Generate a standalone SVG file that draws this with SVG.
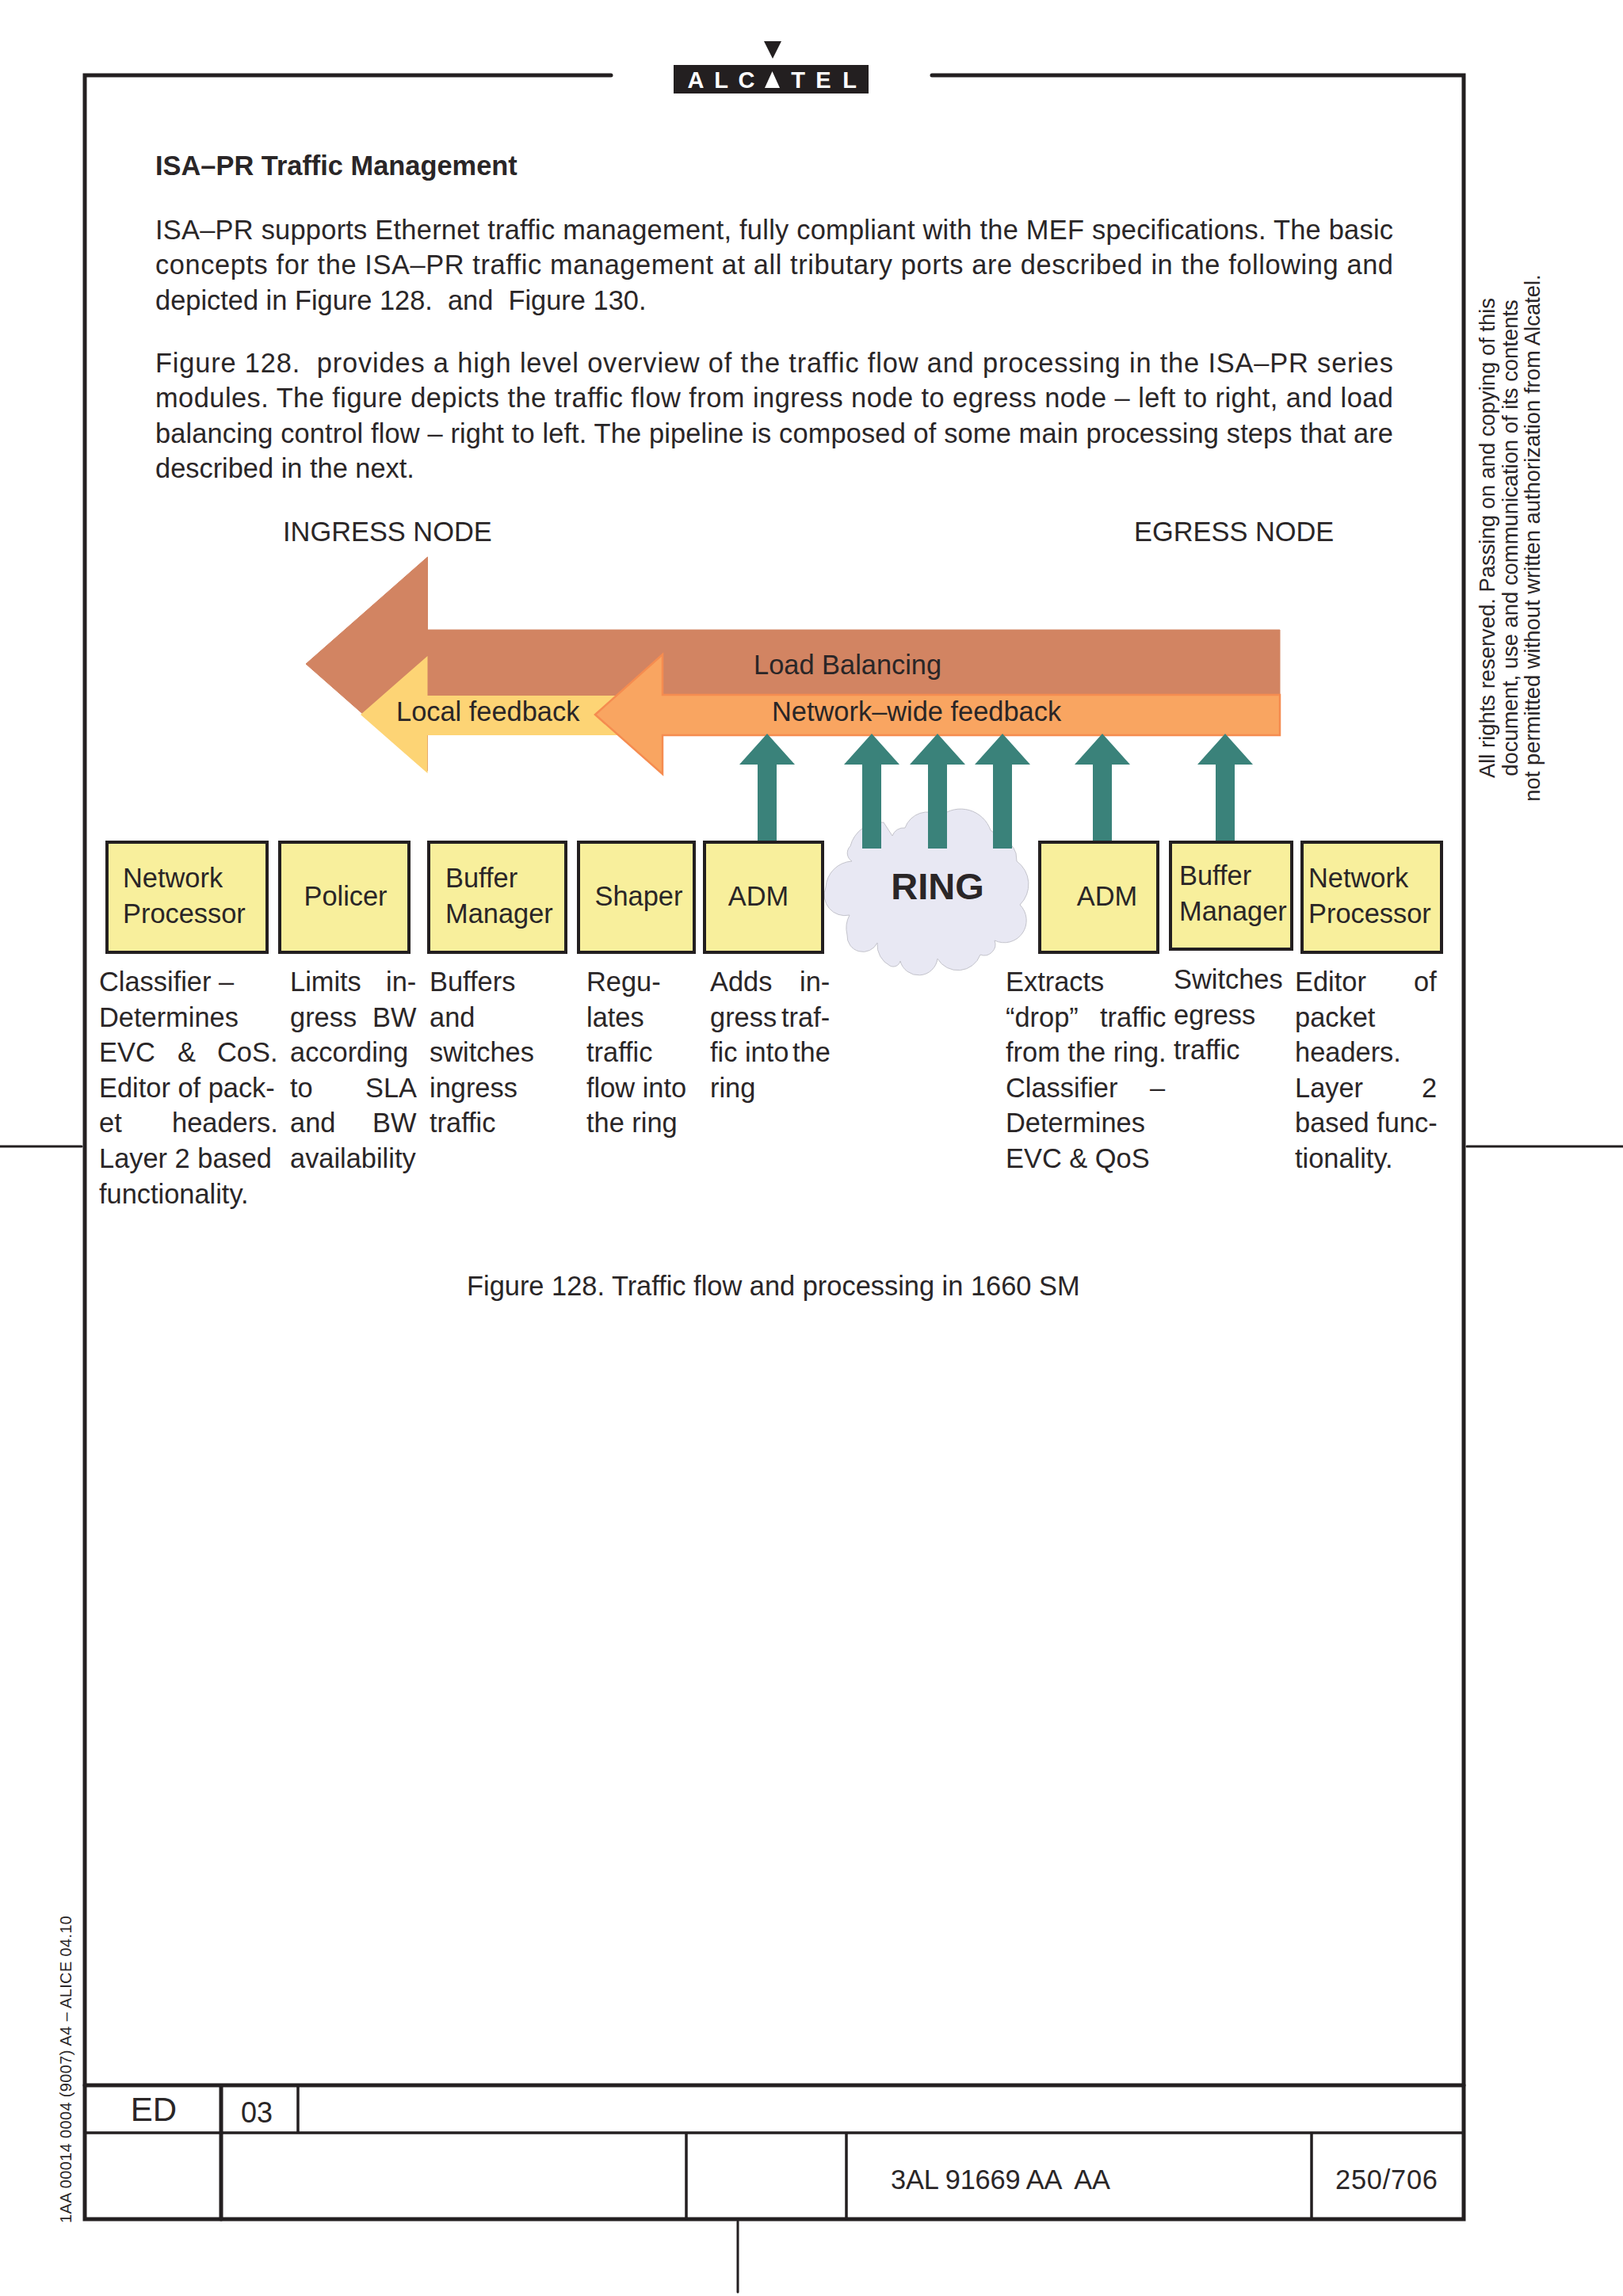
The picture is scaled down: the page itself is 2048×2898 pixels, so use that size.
<svg xmlns="http://www.w3.org/2000/svg" width="2048" height="2898" viewBox="0 0 2048 2898">
<style>
text{font-family:"Liberation Sans",Arial,sans-serif;fill:#2a2627;font-size:34.4px;white-space:pre}
.b{font-weight:bold}
.m{text-anchor:middle}
.f{fill:none;stroke:#231f20;stroke-linecap:round}
.box{fill:#f8ef9c;stroke:#231f20;stroke-width:4}
.teal{fill:#3a827a}
.lg{fill:#fff;font-weight:bold;font-size:29px;text-anchor:middle}
.s{font-size:27.400px}
</style>
<rect width="2048" height="2898" fill="#fff"/>
<g id="frame">
<path class="f" stroke-width="5" d="M771 95H107V2801H1847V95H1176"/>
<path class="f" stroke-width="5" d="M107 2632H1847M279 2632V2801"/>
<path class="f" stroke-width="3.500" d="M107 2692H1847M866 2692V2801M1068 2692V2801M1655 2692V2801M376 2632V2692"/>
<path class="f" stroke-width="3" d="M0 1447H103M1851 1447H2048M931 2804V2893"/>
</g>
<g id="logo">
<polygon points="964,52 986,52 975,74" fill="#231f20"/>
<rect x="850" y="82" width="246" height="36" fill="#231f20"/>
<text class="lg" x="878 910 942" y="111">ALC</text>
<polygon points="965,111 984,111 974.500,90" fill="#fff"/>
<text class="lg" x="1007 1039 1072" y="111">TEL</text>
</g>
<g id="body">
<text class="b" x="196" y="221">ISA–PR Traffic Management</text>
<text x="196" y="302" textLength="1562">ISA–PR supports Ethernet traffic management, fully compliant with the MEF specifications. The basic</text>
<text x="196" y="346" textLength="1562">concepts for the ISA–PR traffic management at all tributary ports are described in the following and</text>
<text x="196" y="391">depicted in Figure 128.  and  Figure 130.</text>
<text x="196" y="470" textLength="1562">Figure 128.  provides a high level overview of the traffic flow and processing in the ISA–PR series</text>
<text x="196" y="514" textLength="1562">modules. The figure depicts the traffic flow from ingress node to egress node – left to right, and load</text>
<text x="196" y="559" textLength="1562">balancing control flow – right to left. The pipeline is composed of some main processing steps that are</text>
<text x="196" y="603">described in the next.</text>
<text x="357" y="683">INGRESS NODE</text>
<text x="1431" y="683">EGRESS NODE</text>
<text x="589" y="1635">Figure 128. Traffic flow and processing in 1660 SM</text>
</g>
<g id="cloud">
<path fill="#e8e8f3" stroke="#c4c4cc" stroke-width="1" d="M1073 1068A40 40 0 0 1 1115 1038L1126 1055A15 15 0 0 1 1142 1045A30 30 0 0 1 1187 1030A40 40 0 0 1 1250 1048L1263 1058A30 30 0 0 1 1282 1077L1283 1087A36 36 0 0 1 1287 1142A28 28 0 0 1 1255 1187A14 14 0 0 1 1237 1205A30 30 0 0 1 1183 1210A24 24 0 0 1 1136 1213A9 9 0 0 1 1123 1219A30 30 0 0 1 1107 1190A20 20 0 0 1 1069 1180A35 35 0 0 1 1072 1155A26 26 0 0 1 1042 1120A35 35 0 0 1 1075 1087A12 12 0 0 1 1073 1068Z"/>
<text class="b m" x="1183" y="1135" style="font-size:47px">RING</text>
</g>
<g id="arrows">
<path id="load-balancing" fill="#d28462" stroke="#d28462" d="M386 838L539.500 703V795H1615V878H539.500V973Z"/>
<path id="local-feedback" fill="#fdd475" d="M455 902L539.500 828V878H800V928H539.500V976Z"/>
<path id="network-wide" fill="#f9a561" stroke="#f58c50" stroke-width="2.500" d="M751 902L836 826V877H1615V928H836V977Z"/>
<text x="951" y="851">Load Balancing</text>
<text x="500" y="910">Local feedback</text>
<text x="974" y="910">Network–wide feedback</text>
</g>
<g id="connectors">
<path class="teal" d="M968 926L1003 965H980V1062H956V965H933Z"/>
<path class="teal" d="M1100 926L1135 965H1112V1071H1088V965H1065Z"/>
<path class="teal" d="M1183 926L1218 965H1195V1071H1171V965H1148Z"/>
<path class="teal" d="M1265 926L1300 965H1277V1071H1253V965H1230Z"/>
<path class="teal" d="M1391 926L1426 965H1403V1062H1379V965H1356Z"/>
<path class="teal" d="M1546 926L1581 965H1558V1062H1534V965H1511Z"/>
</g>
<g id="n1"><rect class="box" x="135" y="1063" width="202" height="139"/><text x="155" y="1120">Network</text><text x="155" y="1165">Processor</text></g>
<g id="n2"><rect class="box" x="353" y="1063" width="163" height="139"/><text class="m" x="436" y="1143">Policer</text></g>
<g id="n3"><rect class="box" x="541" y="1063" width="173" height="139"/><text x="562" y="1120">Buffer</text><text x="562" y="1165">Manager</text></g>
<g id="n4"><rect class="box" x="730" y="1063" width="146" height="139"/><text class="m" x="806" y="1143">Shaper</text></g>
<g id="n5"><rect class="box" x="889" y="1063" width="149" height="139"/><text class="m" x="957" y="1143">ADM</text></g>
<g id="n6"><rect class="box" x="1312" y="1063" width="149" height="139"/><text class="m" x="1397" y="1143">ADM</text></g>
<g id="n7"><rect class="box" x="1477" y="1063" width="153" height="135"/><text x="1488" y="1117">Buffer</text><text x="1488" y="1162">Manager</text></g>
<g id="n8"><rect class="box" x="1643" y="1063" width="176" height="139"/><text x="1651" y="1120">Network</text><text x="1651" y="1165">Processor</text></g>
<g id="descriptions">
<text y="1251"><tspan x="125">Classifier –</tspan></text>
<text y="1296"><tspan x="125">Determines</tspan></text>
<text y="1340"><tspan x="125">EVC</tspan><tspan x="224">&amp;</tspan><tspan x="274">CoS.</tspan></text>
<text y="1385"><tspan x="125">Editor of pack-</tspan></text>
<text y="1429"><tspan x="125">et</tspan><tspan x="217">headers.</tspan></text>
<text y="1474"><tspan x="125">Layer 2 based</tspan></text>
<text y="1519"><tspan x="125">functionality.</tspan></text>
<text y="1251"><tspan x="366">Limits</tspan><tspan x="487">in-</tspan></text>
<text y="1296"><tspan x="366">gress</tspan><tspan x="470">BW</tspan></text>
<text y="1340"><tspan x="366">according</tspan></text>
<text y="1385"><tspan x="366">to</tspan><tspan x="461">SLA</tspan></text>
<text y="1429"><tspan x="366">and</tspan><tspan x="470">BW</tspan></text>
<text y="1474"><tspan x="366">availability</tspan></text>
<text y="1251"><tspan x="542">Buffers</tspan></text>
<text y="1296"><tspan x="542">and</tspan></text>
<text y="1340"><tspan x="542">switches</tspan></text>
<text y="1385"><tspan x="542">ingress</tspan></text>
<text y="1429"><tspan x="542">traffic</tspan></text>
<text y="1251"><tspan x="740">Regu-</tspan></text>
<text y="1296"><tspan x="740">lates</tspan></text>
<text y="1340"><tspan x="740">traffic</tspan></text>
<text y="1385"><tspan x="740">flow into</tspan></text>
<text y="1429"><tspan x="740">the ring</tspan></text>
<text y="1251"><tspan x="896">Adds</tspan><tspan x="1009">in-</tspan></text>
<text y="1296"><tspan x="896">gress</tspan><tspan x="986">traf-</tspan></text>
<text y="1340"><tspan x="896">fic into</tspan><tspan x="1000">the</tspan></text>
<text y="1385"><tspan x="896">ring</tspan></text>
<text y="1251"><tspan x="1269">Extracts</tspan></text>
<text y="1296"><tspan x="1269">“drop”</tspan><tspan x="1388">traffic</tspan></text>
<text y="1340"><tspan x="1269">from the ring.</tspan></text>
<text y="1385"><tspan x="1269">Classifier</tspan><tspan x="1451">–</tspan></text>
<text y="1429"><tspan x="1269">Determines</tspan></text>
<text y="1474"><tspan x="1269">EVC &amp; QoS</tspan></text>
<text y="1248"><tspan x="1481">Switches</tspan></text>
<text y="1293"><tspan x="1481">egress</tspan></text>
<text y="1337"><tspan x="1481">traffic</tspan></text>
<text y="1251"><tspan x="1634">Editor</tspan><tspan x="1784">of</tspan></text>
<text y="1296"><tspan x="1634">packet</tspan></text>
<text y="1340"><tspan x="1634">headers.</tspan></text>
<text y="1385"><tspan x="1634">Layer</tspan><tspan x="1794">2</tspan></text>
<text y="1429"><tspan x="1634">based func-</tspan></text>
<text y="1474"><tspan x="1634">tionality.</tspan></text>
</g>
<g id="side">
<text class="m s" transform="translate(1886 679) rotate(-90)">All rights reserved. Passing on and copying of this</text>
<text class="m s" transform="translate(1915 679) rotate(-90)">document, use and communication of its contents</text>
<text class="m s" transform="translate(1943 679) rotate(-90)">not permitted without written authorization from Alcatel.</text>
<text style="font-size:20px" transform="translate(90 2806) rotate(-90)" textLength="388">1AA 00014 0004 (9007) A4 – ALICE 04.10</text>
</g>
<g id="table">
<text style="font-size:42px" class="m" x="194" y="2677">ED</text>
<text class="m" style="font-size:36px" x="324" y="2679">03</text>
<text x="1124" y="2763" textLength="277">3AL 91669 AA  AA</text>
<text x="1685" y="2763" textLength="129">250/706</text>
</g>
</svg>
